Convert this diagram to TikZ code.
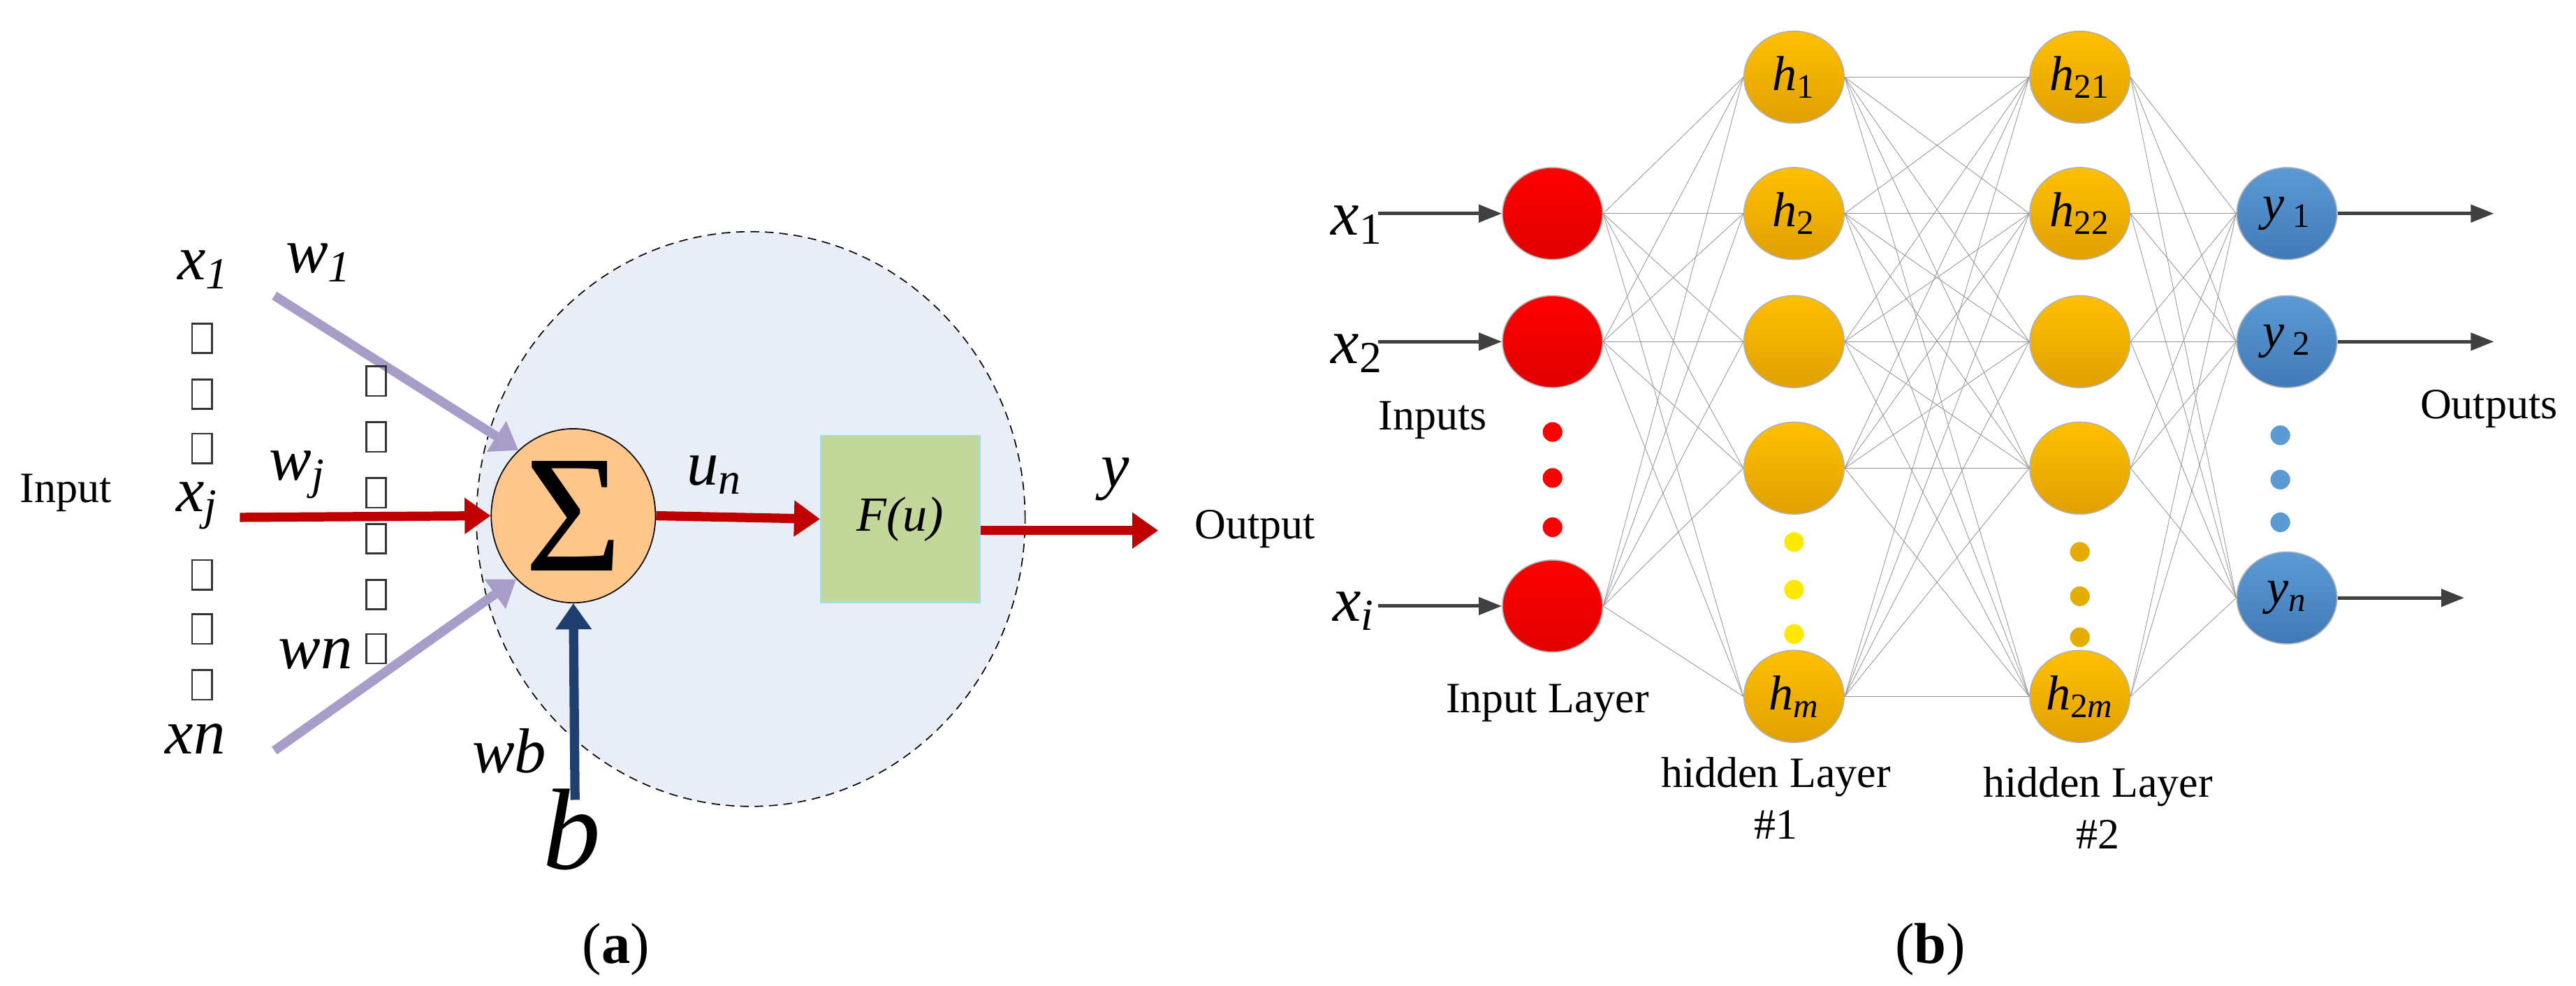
\documentclass[tikz,border=0pt]{standalone}
\usepackage{fontspec}
\setmainfont{Liberation Serif}
\usetikzlibrary{arrows.meta,shapes.geometric}
\definecolor{ballorange}{HTML}{FFC000}
\definecolor{balldark}{HTML}{E0A000}
\definecolor{ballblue}{HTML}{5B9BD5}
\definecolor{bluedark}{HTML}{4279B8}
\definecolor{wred}{HTML}{C00000}
\definecolor{wpurple}{HTML}{A89CC8}
\definecolor{wnavy}{HTML}{1F3F6F}
\definecolor{cellfill}{HTML}{E9EEF6}
\definecolor{boxgreen}{HTML}{C4D79B}
\tikzset{
  lbl/.style={font=\fontsize{15}{18}\selectfont},
  mlbl/.style={font=\fontsize{22}{24}\selectfont\itshape},
  fat/.style={line width=3.2pt, -{Triangle[length=9pt,width=12pt]}},
  neuron/.style={ellipse, minimum width=1.22cm, minimum height=1.12cm, inner sep=0pt,
    draw=black!30, font=\fontsize{17}{20}\selectfont\itshape},
  inn/.style={neuron, top color=red, bottom color=red!88!black},
  hid/.style={neuron, top color=ballorange, bottom color=balldark},
  outn/.style={neuron, top color=ballblue, bottom color=bluedark},
  link/.style={gray!85, very thin},
  io/.style={black!75, line width=1.2pt, -{Triangle[length=8pt,width=6pt]}},
  sq/.style={draw=black!80, semithick, minimum width=0.24cm, minimum height=0.36cm, inner sep=0pt},
}
\begin{document}
\begin{tikzpicture}[x=0.02cm, y=-0.02cm]
    \useasboundingbox (0,0) rectangle (1568,600);

    % (a) single neuron
    \node[ellipse, draw, densely dashed, thin, fill=cellfill, minimum width=6.68cm, minimum height=7cm] (cell) at (457,316) {};
    \node[ellipse, draw, fill=orange!45, minimum width=2cm, minimum height=2.12cm, inner sep=0pt] (sum) at (349,314) {};
    \node[font=\fontsize{58}{58}\selectfont] (sigma) at (sum.center) {Σ};
    \node[rectangle, fill=boxgreen, draw=cyan!40, minimum width=1.94cm, minimum height=2.04cm, font=\fontsize{17}{20}\selectfont] (act) at (548,316) {\textit{F(u)}};

    \coordinate (xjin) at (146,315);
    \coordinate (x1in) at (167,180);
    \coordinate (xnin) at (167,457);
    \coordinate (bin)  at (350,487);
    \coordinate (yout) at (705,323);

    \draw[fat, wred] (xjin) -- (sum.west);
    \draw[fat, wpurple] (x1in) -- (sum.130);
    \draw[fat, wpurple] (xnin) -- (sum.228);
    \draw[fat, wnavy] (bin) -- (sum.south);
    \draw[fat, wred] (sum.east) -- (act.west);
    \draw[fat, wred] (act.east |- yout) -- (yout);

    \node[lbl] (inlbl) at (40,300) {Input};
    \node[lbl] (outlbl) at (764,322) {Output};
    \node[mlbl] (x1) at (124,164) {x\textsubscript{1}};
    \node[mlbl] (xj) at (120,308) {x\textsubscript{j}};
    \node[mlbl] (xn) at (119,450) {xn};
    \node[mlbl] (w1) at (194,160) {w\textsubscript{1}};
    \node[mlbl] (wj) at (181,289) {w\textsubscript{j}};
    \node[mlbl] (wn) at (192,398) {wn};
    \node[mlbl] (wb) at (310,457) {wb};
    \node[font=\fontsize{40}{42}\selectfont\itshape] (bias) at (348,505) {b};
    \node[mlbl] (un) at (435,289) {u\textsubscript{n}};
    \node[mlbl] (y) at (679,292) {y};

    \foreach \yy in {206,240,273,350,383,417} \node[sq] at (123,\yy) {};
    \foreach \yy in {232,266,300,328,362,395} \node[sq] at (229,\yy) {};

    \node[font=\fontsize{20}{22}\selectfont] (capa) at (375,578) {(\textbf{a})};

    % (b) network
    \foreach \n/\yy in {1/130,2/208,3/369} \node[inn] (i\n) at (945,\yy) {};
    \foreach \n/\yy/\t in {1/47/h\textsubscript{\upshape 1},2/130/h\textsubscript{\upshape 2},3/208/,4/285/,5/424/h\textsubscript{m}}
        \node[hid] (h\n) at (1092,\yy) {\t};
    \foreach \n/\yy/\t in {1/47/h\textsubscript{\upshape 21},2/130/h\textsubscript{\upshape 22},3/208/,4/285/,5/424/h\textsubscript{\upshape 2\itshape m}}
        \node[hid] (g\n) at (1266,\yy) {\t};
    \foreach \n/\yy/\t in {1/130/y\textsubscript{\upshape\ 1},2/208/y\textsubscript{\upshape\ 2},3/364/y\textsubscript{n}}
        \node[outn] (o\n) at (1392,\yy) {\t};

    \foreach \a in {1,2,3} \foreach \b in {1,...,5} \draw[link] (i\a.east) -- (h\b.west);
    \foreach \a in {1,...,5} \foreach \b in {1,...,5} \draw[link] (h\a.east) -- (g\b.west);
    \foreach \a in {1,...,5} \foreach \b in {1,2,3} \draw[link] (g\a.east) -- (o\b.west);

    \foreach \yy in {263,291,321} \fill[red] (945,\yy) circle (0.12cm);
    \foreach \yy in {330,359,386} \fill[yellow!90!orange] (1092,\yy) circle (0.12cm);
    \foreach \yy in {336,363,388} \fill[ballorange!90!black] (1266,\yy) circle (0.12cm);
    \foreach \yy in {265,292,318} \fill[ballblue] (1388,\yy) circle (0.12cm);

    \coordinate (xin1) at (839,130);
    \coordinate (xin2) at (839,208);
    \coordinate (xin3) at (839,369);
    \coordinate (yo1) at (1518,130);
    \coordinate (yo2) at (1518,208);
    \coordinate (yo3) at (1500,364);
    \foreach \n in {1,2,3} {
        \draw[io] (xin\n) -- (i\n.west);
        \draw[io] (o\n.east) -- (yo\n);
    }
    \node[mlbl] (lx1) at (826,137) {x\textsubscript{\upshape 1}};
    \node[mlbl] (lx2) at (826,215) {x\textsubscript{\upshape 2}};
    \node[mlbl] (lxi) at (824,372) {x\textsubscript{i}};

    \node[lbl] (inputs) at (872,256) {Inputs};
    \node[lbl] (outputs) at (1515,249) {Outputs};
    \node[lbl] (inlayer) at (942,428) {Input Layer};
    \node[lbl, align=center] (hl1) at (1081,486) {hidden Layer\\\#1};
    \node[lbl, align=center] (hl2) at (1277,492) {hidden Layer\\\#2};

    \node[font=\fontsize{20}{22}\selectfont] (capb) at (1175,578) {(\textbf{b})};
\end{tikzpicture}
\end{document}
